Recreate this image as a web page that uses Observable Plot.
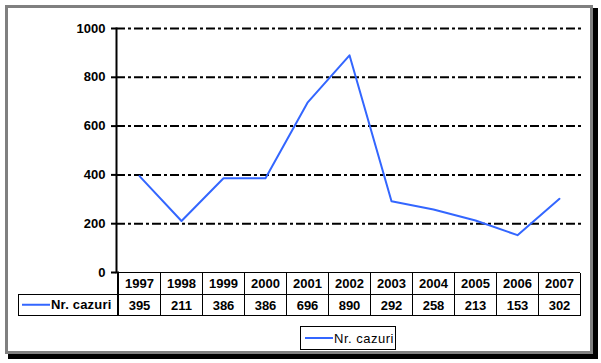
<!DOCTYPE html>
<html>
<head>
<meta charset="utf-8">
<script src="https://cdn.jsdelivr.net/npm/d3@7"></script>
<script src="https://cdn.jsdelivr.net/npm/@observablehq/plot@0.6"></script>
<style>
  html, body { margin: 0; padding: 0; background: #fff; }
  svg { display: block; }
</style>
</head>
<body>
<div id="chart"></div>
<script>
const years = ["1997","1998","1999","2000","2001","2002","2003","2004","2005","2006","2007"];
const values = [395, 211, 386, 386, 696, 890, 292, 258, 213, 153, 302];
const yTicks = [0, 200, 400, 600, 800, 1000];
const gridValues = [200, 400, 600, 800, 1000];
const seriesName = "Nr. cazuri";
const lineColor = "#3366ff";

const data = years.map((year, i) => ({year, value: values[i]}));

const W = 601, H = 363;
const font = "'Liberation Sans', Arial, sans-serif";
const fs = 13;

const plot = Plot.plot({
  width: W,
  height: H,
  marginLeft: 116,
  marginRight: 19,
  marginTop: 28,
  marginBottom: 91,
  style: {fontFamily: font, fontSize: "12px", color: "black", overflow: "visible"},
  x: {type: "band", domain: years, padding: 0, axis: null},
  y: {domain: [0, 1000], axis: null},
  marks: [
    Plot.ruleY(gridValues, {stroke: "black", strokeWidth: 2, strokeDasharray: "9,3,3,3"}),
    Plot.axisY({ticks: yTicks, tickFormat: d3.format("d"), tickSize: 5, tickPadding: 6,
      fontWeight: "bold", fontSize: fs, strokeWidth: 2, label: null}),
    Plot.frame({anchor: "left", stroke: "black", strokeWidth: 2}),
    Plot.line(data, {x: "year", y: "value", stroke: lineColor, strokeWidth: 2}),
    Plot.text(data, {x: "year", y: () => 0, text: "year", dy: 11.5, lineAnchor: "middle",
      fontWeight: "bold", fontSize: fs, fill: "black"}),
    Plot.text(data, {x: "year", y: () => 0, text: d => String(d.value), dy: 33, lineAnchor: "middle",
      fontWeight: "bold", fontSize: fs, fill: "black"})
  ]
});

const svg = d3.select(plot);
const xs = plot.scale("x");
const ys = plot.scale("y");

// Outer frame with shadow (drawn underneath)
const bg = svg.insert("g", ":first-child");
bg.append("rect").attr("x", 593).attr("y", 8).attr("width", 5).attr("height", 351).attr("fill", "black");
bg.append("rect").attr("x", 8).attr("y", 354).attr("width", 590).attr("height", 5).attr("fill", "black");
bg.append("rect").attr("x", 6.5).attr("y", 6.5).attr("width", 585).attr("height", 346)
  .attr("fill", "white").attr("stroke", "#808080").attr("stroke-width", 3);

// Data table grid
const tg = svg.append("g").attr("stroke", "black").attr("stroke-width", 1).attr("fill", "none")
  .attr("shape-rendering", "crispEdges");
const tTop = Math.round(ys.apply(0)) + 0.5;
const tMid = tTop + 21.5;
const tBot = tTop + 43;
const x0 = xs.apply(years[0]);
const xEnd = xs.apply(years[years.length - 1]) + xs.bandwidth;
const tableLeft = 18.5;
tg.append("line").attr("x1", x0).attr("x2", xEnd).attr("y1", tTop).attr("y2", tTop);
tg.append("line").attr("x1", tableLeft).attr("x2", xEnd).attr("y1", tMid).attr("y2", tMid);
tg.append("line").attr("x1", tableLeft).attr("x2", xEnd).attr("y1", tBot).attr("y2", tBot);
tg.append("line").attr("x1", tableLeft).attr("x2", tableLeft).attr("y1", tMid).attr("y2", tBot);
years.forEach(y => {
  const xx = Math.round(xs.apply(y) + xs.bandwidth) + 0.5;
  tg.append("line").attr("x1", xx).attr("x2", xx).attr("y1", tTop).attr("y2", tBot);
});
svg.append("line").attr("x1", x0).attr("x2", x0).attr("y1", tTop - 1).attr("y2", tBot)
  .attr("stroke", "black").attr("stroke-width", 2);

// Series key in the table
const keyY = (tMid + tBot) / 2;
svg.append("line").attr("x1", 22).attr("x2", 50).attr("y1", keyY).attr("y2", keyY)
  .attr("stroke", lineColor).attr("stroke-width", 2);
svg.append("text").attr("x", 51).attr("y", keyY).attr("dy", "0.35em")
  .attr("text-anchor", "start")
  .attr("font-family", font).attr("font-size", fs).attr("font-weight", "bold")
  .attr("letter-spacing", 0.2).text(seriesName);

// Legend box
const lg = svg.append("g");
lg.append("rect").attr("x", 300.5).attr("y", 326.5).attr("width", 95).attr("height", 23)
  .attr("fill", "white").attr("stroke", "black").attr("stroke-width", 1);
lg.append("line").attr("x1", 305).attr("x2", 333).attr("y1", 338).attr("y2", 338)
  .attr("stroke", lineColor).attr("stroke-width", 2);
lg.append("text").attr("x", 334).attr("y", 338).attr("dy", "0.35em")
  .attr("text-anchor", "start")
  .attr("font-family", font).attr("font-size", 13).attr("letter-spacing", 0.5).text(seriesName);

document.getElementById("chart").append(plot);
</script>
</body>
</html>
